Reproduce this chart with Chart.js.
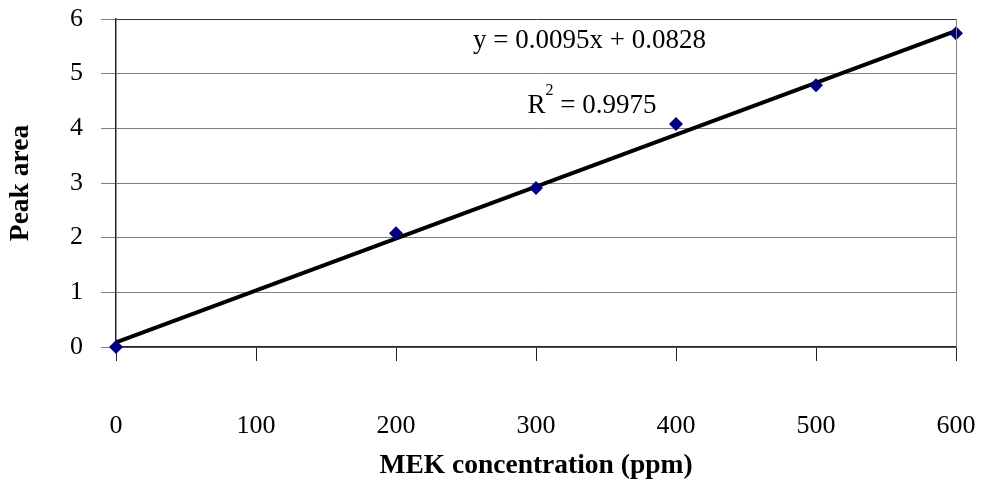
<!DOCTYPE html>
<html>
<head>
<meta charset="utf-8">
<script src="https://cdn.jsdelivr.net/npm/chart.js@4.4.1/dist/chart.umd.min.js"></script>
<style>
  html, body { margin: 0; padding: 0; background: #fff; }
  #wrap { width: 981px; height: 490px; position: relative; }
</style>
</head>
<body>
<div id="wrap"><canvas id="mekChart"></canvas></div>
<script>
// measured points
const concPpm = [0, 200, 300, 400, 500, 600];
const peakArea = [0, 2.08, 2.91, 4.08, 4.79, 5.74];

// linear trendline as reported on the chart
const trendX = [0, 600];
const trendY = [0.0828, 5.7828];

const xTicks = [0, 100, 200, 300, 400, 500, 600];
const yTicks = [0, 1, 2, 3, 4, 5, 6];

const serif = "'Liberation Serif', 'Times New Roman', serif";

// equation and R² text, anchored in data units
const labelsPlugin = {
    id: "trendLabels",
    afterDatasetsDraw(chart) {
        const { ctx, scales: { x, y } } = chart;
        ctx.save();
        ctx.fillStyle = "#000";
        ctx.textBaseline = "alphabetic";
        ctx.font = "27px " + serif;
        ctx.textAlign = "left";
        ctx.fillText("y = 0.0095x + 0.0828", x.getPixelForValue(255), y.getPixelForValue(5.47));

        // R² with a raised 2
        let px = x.getPixelForValue(294);
        const py = y.getPixelForValue(4.28);
        ctx.fillText("R", px, py);
        px += ctx.measureText("R").width;
        ctx.font = "16px " + serif;
        ctx.fillText("2", px, py - 18);
        px += ctx.measureText("2").width;
        ctx.font = "27px " + serif;
        ctx.fillText(" = 0.9975", px, py);

        // right edge of the plot area
        ctx.strokeStyle = "#808080";
        ctx.lineWidth = 1;
        ctx.beginPath();
        ctx.moveTo(chart.chartArea.right + 0.5, chart.chartArea.top);
        ctx.lineTo(chart.chartArea.right + 0.5, chart.chartArea.bottom);
        ctx.stroke();
        ctx.restore();
    }
};

new Chart(document.getElementById("mekChart"), {
    type: "scatter",
    data: {
        datasets: [
            {
                label: "trend",
                data: trendX.map((v, i) => ({ x: v, y: trendY[i] })),
                showLine: true,
                borderColor: "#000",
                borderWidth: 4,
                pointRadius: 0,
                order: 2
            },
            {
                label: "Peak area",
                data: concPpm.map((v, i) => ({ x: v, y: peakArea[i] })),
                pointStyle: "rectRot",
                pointRadius: 7,
                backgroundColor: "#000080",
                borderColor: "#000080",
                borderWidth: 0,
                order: 1
            }
        ]
    },
    options: {
        responsive: true,
        maintainAspectRatio: false,
        animation: false,
        clip: false,
        layout: { padding: { top: 19, right: 25, left: 0, bottom: 0 } },
        plugins: {
            legend: { display: false },
            tooltip: { enabled: false }
        },
        scales: {
            x: {
                type: "linear",
                min: 0,
                max: 600,
                afterBuildTicks: (s) => { s.ticks = xTicks.map(v => ({ value: v })); },
                afterFit: (s) => { s.height = 143; s.paddingLeft = 0; s.paddingRight = 0; },
                border: { color: "#222", width: 1.5 },
                grid: {
                    drawOnChartArea: false,
                    tickLength: 14,
                    tickColor: "#222"
                },
                ticks: {
                    color: "#000",
                    padding: 50,
                    font: { family: serif, size: 26 }
                },
                title: {
                    display: true,
                    text: "MEK concentration (ppm)",
                    color: "#000",
                    padding: { top: 0, bottom: 8 },
                    font: { family: serif, size: 27.5, weight: "bold" }
                }
            },
            y: {
                min: 0,
                max: 6,
                afterBuildTicks: (s) => { s.ticks = yTicks.map(v => ({ value: v })); },
                afterFit: (s) => { s.width = 116; s.paddingTop = 0; s.paddingBottom = 0; },
                border: { color: "#222", width: 1.5 },
                grid: {
                    color: (c) => (c.tick && c.tick.value === 6 ? "#333" : "#808080"),
                    tickColor: "#808080",
                    tickLength: 15,
                    lineWidth: 1
                },
                ticks: {
                    color: "#000",
                    padding: 18,
                    font: { family: serif, size: 26 }
                },
                title: {
                    display: true,
                    text: "Peak area",
                    color: "#000",
                    padding: { top: 4, bottom: 0 },
                    font: { family: serif, size: 27.5, weight: "bold" }
                }
            }
        }
    },
    plugins: [labelsPlugin]
});
</script>
</body>
</html>
